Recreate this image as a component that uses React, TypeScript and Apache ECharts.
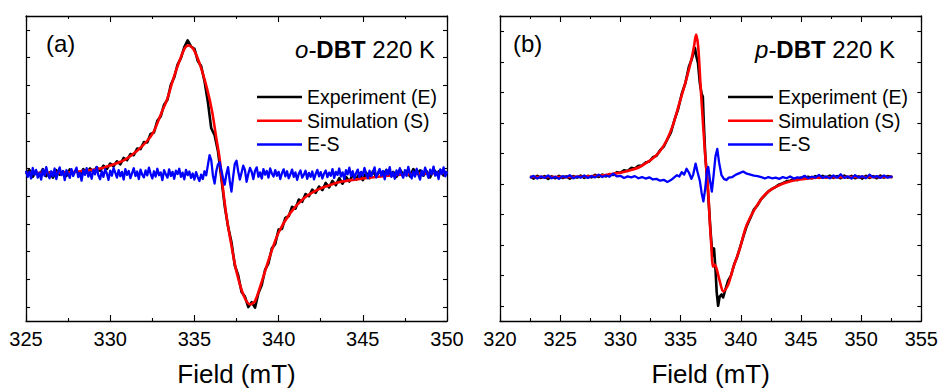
import React, { useEffect, useRef } from "react";
import * as echarts from "echarts";

const FONT = '"Liberation Sans", Arial, Helvetica, sans-serif';

// ---------- Panel (a): o-DBT 220 K ----------
const A_X_TICKS = [325, 350, 5];
const A_SIM: [number, number][] = [
  [325.0, -0.16], [327.0, -0.15], [328.0, -0.12], [329.0, -0.05], [329.6, 0.03], [330.0, 0.11],
  [330.8, 0.29], [331.6, 0.64], [332.2, 1.0], [332.6, 1.35], [333.0, 1.94], [333.4, 2.53],
  [333.75, 3.24], [334.15, 3.94], [334.45, 4.36], [334.65, 4.44], [334.95, 4.3], [335.35, 3.71],
  [335.75, 2.88], [336.05, 2.06], [336.3, 1.1], [336.5, 0.35], [336.65, -0.5], [336.9, -1.7],
  [337.2, -2.78], [337.5, -3.72], [337.9, -4.54], [338.3, -4.9], [338.6, -4.78], [339.0, -4.08],
  [339.5, -3.13], [340.0, -2.31], [340.7, -1.6], [341.5, -1.07], [342.3, -0.77], [342.9, -0.63],
  [343.7, -0.48], [345.0, -0.36], [346.5, -0.26], [348.0, -0.2], [350.0, -0.16],
];
const A_EXP: [number, number][] = [
  [325.0, -0.2], [325.2, -0.05], [325.4, -0.3], [325.6, -0.12], [325.8, -0.25], [326.0, -0.02],
  [326.2, -0.28], [326.4, -0.14], [326.6, -0.33], [326.8, -0.06], [327.0, -0.22], [327.2, -0.1],
  [327.4, -0.27], [327.6, -0.03], [327.8, -0.18], [328.0, -0.08], [328.2, -0.24], [328.4, -0.02],
  [328.6, -0.15], [328.8, 0.0], [329.0, -0.12], [329.2, 0.04], [329.4, -0.08], [329.6, 0.1],
  [329.8, -0.02], [330.0, 0.18], [330.2, 0.08], [330.4, 0.26], [330.6, 0.15], [330.8, 0.38],
  [331.0, 0.3], [331.2, 0.52], [331.4, 0.48], [331.6, 0.72], [331.8, 0.7], [332.0, 0.95],
  [332.2, 0.94], [332.4, 1.25], [332.6, 1.3], [332.8, 1.72], [333.0, 1.88], [333.2, 2.3],
  [333.4, 2.48], [333.6, 3.02], [333.8, 3.28], [334.0, 3.75], [334.2, 3.98], [334.4, 4.38],
  [334.6, 4.62], [334.8, 4.4], [335.0, 4.32], [335.2, 3.88], [335.4, 3.7], [335.6, 3.15],
  [335.8, 2.4], [336.0, 1.45], [336.2, 1.2], [336.4, 0.62], [336.6, -0.35], [336.8, -1.35],
  [337.0, -2.1], [337.2, -2.65], [337.4, -3.5], [337.6, -3.85], [337.8, -4.45], [338.0, -4.62],
  [338.2, -5.0], [338.4, -4.82], [338.6, -5.02], [338.8, -4.5], [339.0, -4.2], [339.2, -3.65],
  [339.4, -3.42], [339.6, -2.88], [339.8, -2.72], [340.0, -2.2], [340.2, -2.18], [340.4, -1.78],
  [340.6, -1.72], [340.8, -1.38], [341.0, -1.45], [341.2, -1.12], [341.4, -1.2], [341.6, -0.92],
  [341.8, -1.0], [342.0, -0.76], [342.2, -0.88], [342.4, -0.65], [342.6, -0.78], [342.8, -0.52],
  [343.0, -0.68], [343.2, -0.45], [343.4, -0.6], [343.6, -0.35], [343.8, -0.55], [344.0, -0.3],
  [344.2, -0.47], [344.4, -0.22], [344.6, -0.4], [344.8, -0.18], [345.0, -0.42], [345.2, -0.15],
  [345.4, -0.35], [345.6, -0.1], [345.8, -0.3], [346.0, -0.08], [346.2, -0.27], [346.4, -0.05],
  [346.6, -0.24], [346.8, -0.12], [347.0, -0.3], [347.2, -0.04], [347.4, -0.21], [347.6, -0.09],
  [347.8, -0.28], [348.0, -0.02], [348.2, -0.19], [348.4, -0.07], [348.6, -0.26], [348.8, -0.1],
  [349.0, -0.32], [349.2, -0.03], [349.4, -0.18], [349.6, -0.06], [349.8, -0.25], [350.0, -0.1],
];
const A_RES: [number, number][] = [
  [325.0, -0.08], [325.1, -0.3], [325.2, -0.12], [325.3, -0.36], [325.4, 0.02], [325.5, -0.22],
  [325.6, -0.05], [325.7, -0.33], [325.8, -0.15], [325.9, -0.4], [326.0, -0.04], [326.1, -0.26],
  [326.2, 0.05], [326.3, -0.2], [326.4, -0.35], [326.5, -0.1], [326.6, -0.28], [326.7, 0.0],
  [326.8, -0.38], [326.9, -0.14], [327.0, 0.04], [327.1, -0.24], [327.2, -0.09], [327.3, -0.42],
  [327.4, -0.06], [327.5, -0.19], [327.6, -0.34], [327.7, -0.02], [327.8, -0.27], [327.9, -0.11],
  [328.0, 0.03], [328.1, -0.31], [328.2, -0.16], [328.3, -0.44], [328.4, -0.07], [328.5, -0.23],
  [328.6, 0.01], [328.7, -0.29], [328.8, -0.13], [328.9, -0.37], [329.0, -0.05], [329.1, -0.21],
  [329.2, 0.06], [329.3, -0.25], [329.4, -0.39], [329.5, -0.1], [329.6, -0.3], [329.7, -0.03],
  [329.8, -0.18], [329.9, -0.41], [330.0, -0.08], [330.1, -0.26], [330.2, 0.02], [330.3, -0.15],
  [330.4, -0.33], [330.5, -0.06], [330.6, -0.28], [330.7, -0.12], [330.8, -0.4], [330.9, -0.02],
  [331.0, -0.23], [331.1, -0.09], [331.2, -0.35], [331.3, -0.17], [331.4, 0.01], [331.5, -0.27],
  [331.6, -0.11], [331.7, -0.38], [331.8, -0.04], [331.9, -0.22], [332.0, -0.32], [332.1, -0.07],
  [332.2, -0.25], [332.3, 0.03], [332.4, -0.19], [332.5, -0.36], [332.6, -0.1], [332.7, -0.29],
  [332.8, -0.01], [332.9, -0.24], [333.0, -0.14], [333.1, -0.42], [333.2, -0.06], [333.3, -0.21],
  [333.4, -0.33], [333.5, -0.03], [333.6, -0.27], [333.7, -0.12], [333.8, -0.37], [333.9, -0.08],
  [334.0, -0.2], [334.1, -0.01], [334.2, -0.3], [334.3, -0.15], [334.4, -0.39], [334.5, -0.05],
  [334.6, -0.24], [334.7, -0.11], [334.8, -0.34], [334.9, -0.18], [335.0, -0.4], [335.1, -0.13],
  [335.2, -0.31], [335.3, -0.45], [335.4, -0.22], [335.5, -0.38], [335.6, -0.1], [335.7, -0.25],
  [335.8, 0.12], [335.9, 0.48], [336.0, 0.3], [336.1, -0.25], [336.2, -0.54], [336.3, -0.1],
  [336.4, 0.15], [336.5, 0.23], [336.6, -0.05], [336.7, -0.35], [336.8, -0.58], [336.9, -0.2],
  [337.0, 0.05], [337.1, -0.45], [337.2, -0.83], [337.3, -0.3], [337.4, 0.17], [337.5, 0.28],
  [337.6, -0.1], [337.7, -0.4], [337.8, -0.15], [337.9, 0.1], [338.0, -0.05], [338.1, -0.48],
  [338.2, -0.2], [338.3, 0.02], [338.4, -0.12], [338.5, -0.38], [338.6, -0.08], [338.7, 0.04],
  [338.8, -0.3], [338.9, -0.14], [339.0, -0.36], [339.1, -0.02], [339.2, -0.22], [339.3, -0.09],
  [339.4, -0.33], [339.5, 0.0], [339.6, -0.18], [339.7, -0.29], [339.8, -0.06], [339.9, -0.26],
  [340.0, -0.12], [340.1, -0.38], [340.2, -0.17], [340.3, -0.03], [340.4, -0.28], [340.5, -0.1],
  [340.6, -0.35], [340.7, -0.21], [340.8, -0.04], [340.9, -0.3], [341.0, -0.14], [341.1, -0.41],
  [341.2, -0.19], [341.3, -0.07], [341.4, -0.33], [341.5, -0.22], [341.6, -0.08], [341.7, -0.37],
  [341.8, -0.16], [341.9, -0.3], [342.0, -0.11], [342.1, -0.39], [342.2, -0.2], [342.3, -0.05],
  [342.4, -0.28], [342.5, -0.13], [342.6, -0.36], [342.7, -0.18], [342.8, -0.07], [342.9, -0.31],
  [343.0, -0.15], [343.1, -0.26], [343.2, -0.02], [343.3, -0.34], [343.4, -0.12], [343.5, -0.23],
  [343.6, 0.0], [343.7, -0.29], [343.8, -0.14], [343.9, -0.38], [344.0, -0.06], [344.1, -0.21],
  [344.2, 0.03], [344.3, -0.27], [344.4, -0.1], [344.5, -0.36], [344.6, -0.17], [344.7, -0.04],
  [344.8, -0.31], [344.9, -0.12], [345.0, -0.25], [345.1, 0.02], [345.2, -0.19], [345.3, -0.35],
  [345.4, -0.08], [345.5, -0.28], [345.6, -0.13], [345.7, 0.04], [345.8, -0.32], [345.9, -0.16],
  [346.0, -0.02], [346.1, -0.26], [346.2, -0.09], [346.3, -0.39], [346.4, -0.05], [346.5, -0.22],
  [346.6, 0.05], [346.7, -0.3], [346.8, -0.14], [346.9, -0.37], [347.0, -0.07], [347.1, -0.24],
  [347.2, 0.01], [347.3, -0.2], [347.4, -0.33], [347.5, -0.06], [347.6, -0.27], [347.7, 0.06],
  [347.8, -0.18], [347.9, -0.36], [348.0, -0.1], [348.1, -0.29], [348.2, -0.01], [348.3, -0.23],
  [348.4, -0.4], [348.5, -0.08], [348.6, -0.25], [348.7, 0.03], [348.8, -0.15], [348.9, -0.34],
  [349.0, -0.04], [349.1, -0.21], [349.2, 0.07], [349.3, -0.26], [349.4, -0.12], [349.5, -0.38],
  [349.6, -0.03], [349.7, -0.2], [349.8, 0.04], [349.9, -0.28], [350.0, -0.1],
];

// ---------- Panel (b): p-DBT 220 K ----------
const B_X_TICKS = [320, 355, 5];
const B_SIM: [number, number][] = [
  [322.5, 4.22], [325.0, 4.22], [327.0, 4.24], [328.5, 4.28], [329.4, 4.33], [330.1, 4.37],
  [330.8, 4.44], [331.6, 4.55], [332.45, 4.76], [332.9, 4.9], [333.3, 5.07], [333.83, 5.41],
  [334.38, 5.94], [334.94, 6.69], [335.49, 7.44], [335.91, 8.09], [336.12, 8.51], [336.29, 8.89],
  [336.46, 8.51], [336.66, 7.23], [336.87, 5.94], [337.1, 4.65], [337.29, 3.8], [337.43, 2.73],
  [337.57, 1.87], [337.68, 1.28], [337.82, 1.35], [337.98, 1.23], [338.26, 0.8], [338.55, 0.47],
  [338.95, 0.69], [339.36, 1.23], [339.92, 1.87], [340.47, 2.62], [341.3, 3.26], [342.13, 3.69],
  [343.24, 3.96], [344.62, 4.12], [346.28, 4.2], [349.0, 4.22], [352.6, 4.22],
];
const B_EXP: [number, number][] = [
  [322.5, 4.24], [322.8, 4.17], [323.1, 4.26], [323.4, 4.19], [323.7, 4.25], [324.0, 4.16],
  [324.3, 4.24], [324.6, 4.18], [324.9, 4.26], [325.2, 4.19], [325.5, 4.24], [325.8, 4.17],
  [326.1, 4.25], [326.4, 4.2], [326.7, 4.27], [327.0, 4.19], [327.3, 4.26], [327.6, 4.21],
  [327.9, 4.29], [328.2, 4.22], [328.5, 4.3], [328.8, 4.24], [329.1, 4.32], [329.4, 4.29],
  [329.7, 4.38], [330.0, 4.36], [330.3, 4.44], [330.6, 4.42], [330.9, 4.52], [331.2, 4.5],
  [331.5, 4.59], [331.8, 4.6], [332.1, 4.7], [332.4, 4.73], [332.7, 4.87], [333.0, 4.92],
  [333.3, 5.1], [333.6, 5.22], [333.9, 5.45], [334.2, 5.68], [334.5, 6.1], [334.8, 6.45],
  [335.1, 6.95], [335.4, 7.3], [335.7, 7.85], [335.9, 8.05], [336.05, 8.25], [336.2, 8.45],
  [336.3, 8.2], [336.45, 7.95], [336.6, 7.3], [336.75, 6.95], [336.85, 6.85], [336.92, 6.1],
  [337.05, 4.95], [337.2, 4.2], [337.35, 3.3], [337.5, 2.4], [337.65, 1.65], [337.78, 1.88],
  [337.9, 1.2], [338.0, 0.45], [338.12, 0.0], [338.25, 0.3], [338.4, 0.37], [338.53, 0.27],
  [338.7, 0.5], [338.95, 0.82], [339.2, 1.0], [339.45, 1.35], [339.7, 1.6], [339.95, 1.92],
  [340.2, 2.25], [340.5, 2.62], [340.8, 2.88], [341.1, 3.16], [341.4, 3.3], [341.7, 3.5],
  [342.0, 3.62], [342.3, 3.75], [342.6, 3.83], [342.9, 3.9], [343.2, 3.98], [343.5, 4.02],
  [343.8, 4.08], [344.1, 4.1], [344.4, 4.15], [344.7, 4.12], [345.0, 4.2], [345.3, 4.16],
  [345.6, 4.23], [345.9, 4.18], [346.2, 4.25], [346.5, 4.19], [346.8, 4.26], [347.1, 4.2],
  [347.4, 4.27], [347.7, 4.19], [348.0, 4.25], [348.3, 4.18], [348.6, 4.27], [348.9, 4.2],
  [349.2, 4.26], [349.5, 4.18], [349.8, 4.24], [350.1, 4.17], [350.4, 4.26], [350.7, 4.19],
  [351.0, 4.25], [351.3, 4.18], [351.6, 4.27], [351.9, 4.2], [352.2, 4.25], [352.6, 4.21],
];
const B_RES: [number, number][] = [
  [322.5, 4.2], [322.8, 4.26], [323.1, 4.17], [323.4, 4.24], [323.7, 4.19], [324.0, 4.27],
  [324.3, 4.18], [324.6, 4.23], [324.9, 4.16], [325.2, 4.25], [325.5, 4.21], [325.8, 4.28],
  [326.1, 4.18], [326.4, 4.24], [326.7, 4.2], [327.0, 4.27], [327.3, 4.19], [327.6, 4.25],
  [327.9, 4.21], [328.2, 4.3], [328.5, 4.22], [328.8, 4.27], [329.1, 4.23], [329.4, 4.33],
  [329.7, 4.24], [330.0, 4.26], [330.3, 4.19], [330.6, 4.24], [330.9, 4.21], [331.2, 4.25],
  [331.5, 4.18], [331.8, 4.22], [332.1, 4.17], [332.4, 4.21], [332.7, 4.14], [333.0, 4.16],
  [333.3, 4.1], [333.6, 4.13], [333.9, 4.06], [334.2, 4.12], [334.45, 4.2], [334.7, 4.28],
  [334.9, 4.24], [335.1, 4.38], [335.3, 4.3], [335.5, 4.49], [335.7, 4.36], [335.9, 4.16],
  [336.05, 4.3], [336.25, 4.66], [336.4, 4.4], [336.6, 4.1], [336.75, 3.7], [336.9, 3.42],
  [337.05, 3.85], [337.2, 4.45], [337.3, 4.55], [337.45, 4.1], [337.6, 3.74], [337.75, 4.3],
  [337.9, 4.9], [338.05, 5.14], [338.2, 4.7], [338.4, 4.28], [338.6, 4.16], [338.8, 4.12],
  [339.0, 4.2], [339.3, 4.22], [339.6, 4.3], [339.9, 4.35], [340.2, 4.4], [340.5, 4.33],
  [340.8, 4.3], [341.1, 4.27], [341.4, 4.25], [341.7, 4.22], [342.0, 4.17], [342.3, 4.22],
  [342.6, 4.18], [342.9, 4.2], [343.2, 4.16], [343.5, 4.22], [343.8, 4.18], [344.1, 4.24],
  [344.4, 4.17], [344.7, 4.21], [345.0, 4.19], [345.3, 4.26], [345.6, 4.18], [345.9, 4.23],
  [346.2, 4.2], [346.5, 4.29], [346.8, 4.19], [347.1, 4.24], [347.4, 4.18], [347.7, 4.27],
  [348.0, 4.2], [348.3, 4.31], [348.6, 4.19], [348.9, 4.24], [349.2, 4.17], [349.5, 4.28],
  [349.8, 4.2], [350.1, 4.25], [350.4, 4.18], [350.7, 4.3], [351.0, 4.21], [351.3, 4.25],
  [351.6, 4.19], [351.9, 4.27], [352.2, 4.2], [352.6, 4.24],
];

const SERIES_NAMES = ["Experiment (E)", "Simulation (S)", "E-S"];
const SERIES_COLORS = ["#000000", "#ff0000", "#0000ff"];
const SERIES_WIDTHS = [2.6, 2.6, 2.3];
const A_Y_RANGE = [-5.5, 5.5, 11];
const B_Y_RANGE = [-0.5, 9.5, 10];
const AXIS_TITLE = "Field (mT)";

function xAxisPair(gridIndex: number, ticks: number[]) {
  const common = {
    gridIndex,
    type: "value",
    min: ticks[0],
    max: ticks[1],
    interval: ticks[2],
    axisLine: { show: true, onZero: false, lineStyle: { color: "#000", width: 1.3 } },
    axisTick: { show: true, inside: true, length: 6, lineStyle: { color: "#000", width: 1.1 } },
    minorTick: { show: true, splitNumber: 2, length: 3, lineStyle: { color: "#000", width: 1.1 } },
    splitLine: { show: false },
    minorSplitLine: { show: false },
  };
  return [
    {
      ...common,
      position: "bottom",
      axisLabel: { show: true, margin: 8, fontSize: 20, fontFamily: FONT, color: "#000" },
      name: AXIS_TITLE,
      nameLocation: "middle",
      nameGap: 40,
      nameTextStyle: { fontSize: 26, fontFamily: FONT, color: "#000" },
    },
    { ...common, position: "top", axisLabel: { show: false } },
  ];
}

function yAxisPair(gridIndex: number, range: number[]) {
  const common = {
    gridIndex,
    type: "value",
    min: range[0],
    max: range[1],
    splitNumber: range[2],
    axisLine: { show: true, onZero: false, lineStyle: { color: "#000", width: 1.3 } },
    axisTick: { show: true, inside: true, length: 4, lineStyle: { color: "#000", width: 1.1 } },
    axisLabel: { show: false },
    splitLine: { show: false },
  };
  return [
    { ...common, position: "left" },
    { ...common, position: "right" },
  ];
}

function panelSeries(data: [number, number][][], xIdx: number, yIdx: number) {
  return data.map((d, i) => ({
    name: SERIES_NAMES[i],
    type: "line",
    xAxisIndex: xIdx,
    yAxisIndex: yIdx,
    data: d,
    showSymbol: false,
    symbol: "none",
    smooth: i === 1 ? 0.3 : false,
    color: SERIES_COLORS[i],
    lineStyle: { color: SERIES_COLORS[i], width: SERIES_WIDTHS[i], join: "round" },
    z: 2 + i,
    silent: true,
  }));
}

function legendAt(left: number) {
  return {
    left,
    top: 87,
    orient: "vertical",
    icon: "rect",
    itemWidth: 45,
    itemHeight: 2.5,
    itemGap: 3.7,
    padding: 0,
    selectedMode: false,
    data: SERIES_NAMES,
    textStyle: { fontSize: 19.5, fontFamily: FONT, color: "#000", lineHeight: 20, padding: 0 },
  };
}

function titleText(x: number, prefix: string) {
  return {
    type: "text",
    x,
    y: 49.5,
    style: {
      text: `{i|${prefix}-}{b|DBT}{n| 220 K}`,
      align: "right",
      verticalAlign: "middle",
      fill: "#000",
      fontSize: 24,
      fontFamily: FONT,
      rich: {
        i: { fontStyle: "italic", fontSize: 24, fontFamily: FONT, fill: "#000" },
        b: { fontWeight: "bold", fontSize: 24, fontFamily: FONT, fill: "#000" },
        n: { fontSize: 24, fontFamily: FONT, fill: "#000" },
      },
    },
  };
}

function panelLabel(x: number, text: string) {
  return {
    type: "text",
    x,
    y: 43,
    style: { text, fill: "#000", fontSize: 24, fontFamily: FONT, align: "left", verticalAlign: "middle" },
  };
}

export default function App() {
  const ref = useRef<HTMLDivElement>(null);

  useEffect(() => {
    document.body.style.margin = "0";
    if (!ref.current) return;
    const chart = echarts.init(ref.current, undefined, { renderer: "svg" });
    const option = {
      animation: false,
      backgroundColor: "#ffffff",
      grid: [
        { left: 26, right: 494, top: 16, bottom: 65, containLabel: false },
        { left: 500, right: 19.3, top: 16, bottom: 65, containLabel: false },
      ],
      xAxis: [...xAxisPair(0, A_X_TICKS), ...xAxisPair(1, B_X_TICKS)],
      yAxis: [...yAxisPair(0, A_Y_RANGE), ...yAxisPair(1, B_Y_RANGE)],
      legend: [legendAt(257), legendAt(728)],
      series: [
        ...panelSeries([A_EXP, A_SIM, A_RES], 0, 0),
        ...panelSeries([B_EXP, B_SIM, B_RES], 2, 2),
      ],
      graphic: [
        panelLabel(46, "(a)"),
        panelLabel(513, "(b)"),
        titleText(435, "o"),
        titleText(895, "p"),
      ],
    };
    chart.setOption(option as any);
    return () => chart.dispose();
  }, []);

  return (
    <div
      ref={ref}
      style={{ position: "fixed", left: 0, top: 0, width: 941, height: 392, background: "#fff" }}
    />
  );
}
